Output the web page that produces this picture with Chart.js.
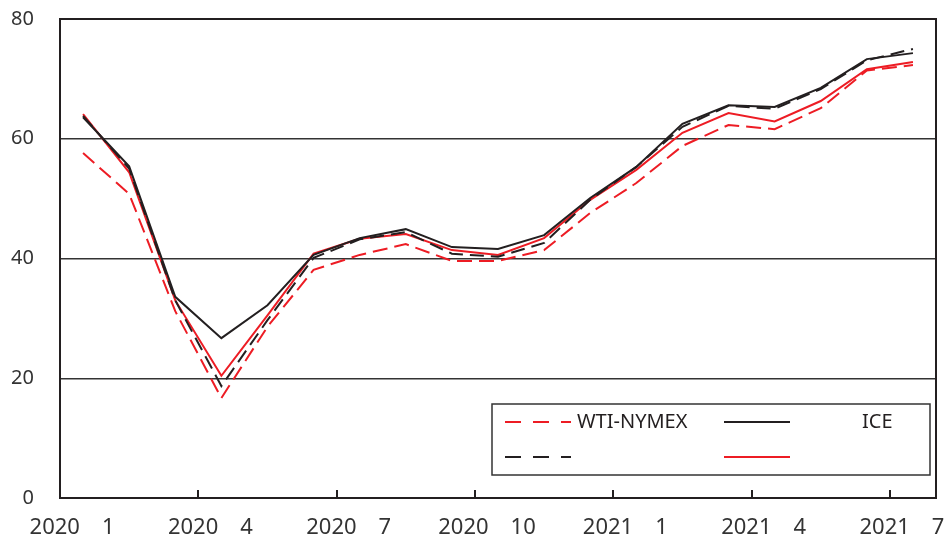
<!DOCTYPE html>
<html>
<head>
<meta charset="utf-8">
<script src="https://cdn.jsdelivr.net/npm/chart.js@4"></script>
<style>
  html, body { margin: 0; padding: 0; background: #fff; }
  #wrap { width: 946px; height: 546px; position: relative; }
</style>
</head>
<body>
<div id="wrap"><canvas id="chart"></canvas></div>
<script>
// months 2020-1 .. 2021-7
const months = ['2020-1', '2020-2', '2020-3', '2020-4', '2020-5', '2020-6', '2020-7', '2020-8', '2020-9', '2020-10',
    '2020-11', '2020-12', '2021-1', '2021-2', '2021-3', '2021-4', '2021-5', '2021-6', '2021-7'];

const wtiNymex = [57.6, 50.8, 31.2, 16.7, 28.6, 38.1, 40.6, 42.4, 39.6, 39.6, 41.4, 47.6, 52.6, 58.8, 62.3, 61.6, 65.1, 71.4, 72.3];
const ice = [63.6, 55.4, 33.6, 26.7, 32.2, 40.6, 43.4, 44.9, 41.9, 41.6, 43.9, 50.1, 55.3, 62.5, 65.6, 65.3, 68.5, 73.3, 74.3];
const blackDash = [63.8, 55.0, 33.0, 18.7, 29.7, 40.1, 43.2, 44.4, 40.8, 40.3, 42.6, 49.8, 55.3, 62.0, 65.5, 65.0, 68.3, 73.1, 75.0];
const redSolid = [64.1, 54.4, 33.0, 20.4, 30.5, 40.8, 43.3, 44.1, 41.4, 40.6, 43.4, 49.8, 54.8, 61.0, 64.3, 62.9, 66.3, 71.6, 72.8];

const yTicks = [0, 20, 40, 60, 80];

const BLACK = '#231f20';
const RED = '#ed1c24';
const FONT = '"Noto Sans", "Open Sans", sans-serif';

// tick label: year, blank, month, blank (the original glyphs between are blank)
const tickLabel = (i) => {
    if (i % 3 !== 0) return '';
    const [y, m] = months[i].split('-');
    return y + '\u3000' + m + '\u3000';
}

const series = [
    { label: 'WTI-NYMEX', data: wtiNymex, color: RED, dash: [15, 7] },
    { label: 'ICE', data: ice, color: BLACK, dash: [] },
    { label: '', data: blackDash, color: BLACK, dash: [14, 7] },
    { label: '', data: redSolid, color: RED, dash: [] },
];

const noPad = (scale) => {
    scale.paddingTop = 0;
    scale.paddingBottom = 0;
    scale.paddingLeft = 0;
    scale.paddingRight = 0;
}

// box, x ticks every quarter, legend
const framePlugin = {
    id: 'frame',
    afterDatasetsDraw(chart) {
        const { ctx, chartArea: a, scales: { x } } = chart;
        ctx.save();
        ctx.strokeStyle = BLACK;
        ctx.lineWidth = 2;
        ctx.beginPath();
        ctx.moveTo(a.left, a.top);
        ctx.lineTo(a.right, a.top);
        ctx.lineTo(a.right, a.bottom);
        ctx.stroke();

        for (let i = 3; i < months.length; i += 3) {
            const px = Math.round((x.getPixelForTick(i - 1) + x.getPixelForTick(i)) / 2);
            ctx.beginPath();
            ctx.moveTo(px, a.bottom);
            ctx.lineTo(px, a.bottom - 8);
            ctx.stroke();
        }

        // legend box
        const bx = a.left + 432, by = a.bottom - 94, bw = 438, bh = 71;
        ctx.fillStyle = '#fff';
        ctx.fillRect(bx, by, bw, bh);
        ctx.lineWidth = 1.5;
        ctx.strokeStyle = '#333';
        ctx.strokeRect(bx, by, bw, bh);

        const cols = [{ x: bx + 13, textGap: 6 }, { x: bx + 232, textGap: 72 }];
        const rows = [by + 18, by + 53];
        const order = [[0, 0, 0], [1, 1, 0], [2, 0, 1], [3, 1, 1]];
        ctx.font = '20px ' + FONT;
        ctx.textBaseline = 'middle';
        ctx.fillStyle = BLACK;
        order.forEach(([si, c, r]) => {
            const s = series[si];
            const lx = cols[c].x, ly = rows[r];
            ctx.beginPath();
            ctx.strokeStyle = s.color;
            ctx.lineWidth = 2;
            ctx.setLineDash(s.dash.length ? [16, 12] : []);
            ctx.moveTo(lx, ly);
            ctx.lineTo(lx + 66, ly);
            ctx.stroke();
            ctx.setLineDash([]);
            if (s.label) ctx.fillText(s.label, lx + 66 + cols[c].textGap, ly);
        });
        ctx.restore();
    }
};

new Chart(document.getElementById('chart'), {
    type: 'line',
    data: {
        labels: months,
        datasets: series.map(s => ({
            label: s.label,
            data: s.data,
            borderColor: s.color,
            backgroundColor: s.color,
            borderDash: s.dash,
            borderWidth: 2,
            pointRadius: 0,
            tension: 0,
            fill: false,
        }))
    },
    options: {
        responsive: true,
        maintainAspectRatio: false,
        animation: false,
        layout: { padding: { top: 19, right: 10, left: 0, bottom: 0 } },
        plugins: { legend: { display: false }, tooltip: { enabled: false } },
        scales: {
            x: {
                offset: true,
                grid: { display: false, drawTicks: false },
                border: { display: true, color: BLACK, width: 2 },
                ticks: {
                    autoSkip: false,
                    maxRotation: 0,
                    padding: 17,
                    color: '#333',
                    font: { family: FONT, size: 22 },
                    callback: (v, i) => tickLabel(i),
                },
                afterFit: (scale) => { scale.height = 48; noPad(scale); },
            },
            y: {
                min: 0,
                max: 80,
                afterBuildTicks: (scale) => { scale.ticks = yTicks.map(v => ({ value: v })); },
                grid: { color: '#333', lineWidth: 1.5, drawTicks: false },
                border: { display: true, color: BLACK, width: 2 },
                ticks: {
                    padding: 26,
                    color: '#333',
                    font: { family: FONT, size: 20 },
                },
                afterFit: (scale) => { scale.width = 60; noPad(scale); },
            }
        }
    },
    plugins: [framePlugin]
});
</script>
</body>
</html>
